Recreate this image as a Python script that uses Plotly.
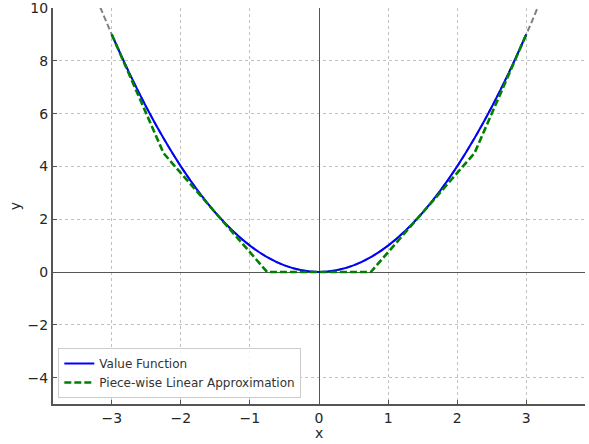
import plotly.graph_objects as go

# Value function samples
value_x = [-3.0, -2.75, -2.5, -2.25, -2.0, -1.75, -1.5, -1.25, -1.0, -0.75, -0.5, -0.25,
           0.0, 0.25, 0.5, 0.75, 1.0, 1.25, 1.5, 1.75, 2.0, 2.25, 2.5, 2.75, 3.0]
value_y = [9.0, 7.5625, 6.25, 5.0625, 4.0, 3.0625, 2.25, 1.5625, 1.0, 0.5625, 0.25, 0.0625,
           0.0, 0.0625, 0.25, 0.5625, 1.0, 1.5625, 2.25, 3.0625, 4.0, 5.0625, 6.25, 7.5625, 9.0]

# Extension of the curve beyond the range (grey dashed)
ext_left_x = [-3.5, -3.25]
ext_left_y = [12.25, 10.5625]
ext_right_x = [3.25, 3.5]
ext_right_y = [10.5625, 12.25]

# Piece-wise linear approximation
pwl_x = [-3.0, -2.25, -1.5, -0.75, 0.0, 0.75, 1.5, 2.25, 3.0]
pwl_y = [9.0, 4.5, 2.25, 0.0, 0.0, 0.0, 2.25, 4.5, 9.0]

x_ticks = [-3, -2, -1, 0, 1, 2, 3]
y_ticks = [-4, -2, 0, 2, 4, 6, 8, 10]


def lab(v):
    return ("\u2212" + str(abs(v))) if v < 0 else str(v)


fig = go.Figure()
fig.add_trace(go.Scatter(x=ext_left_x + value_x + ext_right_x,
                         y=ext_left_y + value_y + ext_right_y, mode="lines",
                         showlegend=False, hoverinfo="skip",
                         line=dict(color="#808080", width=2, dash="6px,3px", shape="spline")))
fig.add_trace(go.Scatter(x=value_x, y=value_y, mode="lines", name="Value Function",
                         line=dict(color="#0000ff", width=2, shape="spline")))
fig.add_trace(go.Scatter(x=pwl_x, y=pwl_y, mode="lines", name="Piece-wise Linear Approximation",
                         line=dict(color="#008000", width=2.6, dash="7px,3px")))

axis_common = dict(
    showgrid=True, gridcolor="#c0c0c0", gridwidth=1, griddash="dot",
    zeroline=True, zerolinecolor="#555555", zerolinewidth=1,
    showline=True, linecolor="#555555", linewidth=2,
    ticks="inside", ticklen=4, tickcolor="#555555", tickwidth=1,
    tickfont=dict(size=14, color="#262626"),
    automargin=False, ticklabeloverflow="allow",
)

fig.update_layout(
    width=589, height=444,
    margin=dict(l=53, r=4, t=8, b=40),
    plot_bgcolor="white", paper_bgcolor="white",
    font=dict(family="DejaVu Sans", color="#262626"),
    xaxis=dict(range=[-3.85, 3.85], tickvals=x_ticks, ticktext=[lab(v) for v in x_ticks],
               **axis_common),
    yaxis=dict(range=[-5, 10], tickvals=y_ticks, ticktext=[lab(v) for v in y_ticks],
               **axis_common),
    legend=dict(x=0.01, y=0.015, xanchor="left", yanchor="bottom",
                bgcolor="rgba(255,255,255,0.85)", bordercolor="#cccccc", borderwidth=1,
                font=dict(size=12, color="#333333"), tracegroupgap=0),
    showlegend=True,
    annotations=[
        dict(text="x", xref="paper", yref="paper", x=0.5, y=-0.073,
             xanchor="center", yanchor="middle", showarrow=False,
             font=dict(size=14, color="#262626")),
        dict(text="y", xref="paper", yref="paper", x=-0.071, y=0.5, textangle=-90,
             xanchor="center", yanchor="middle", showarrow=False,
             font=dict(size=14, color="#262626")),
    ],
)

fig.write_html("out.html", config={"displayModeBar": False},
               post_script="document.body.style.margin='0';document.body.style.overflow='hidden';")
